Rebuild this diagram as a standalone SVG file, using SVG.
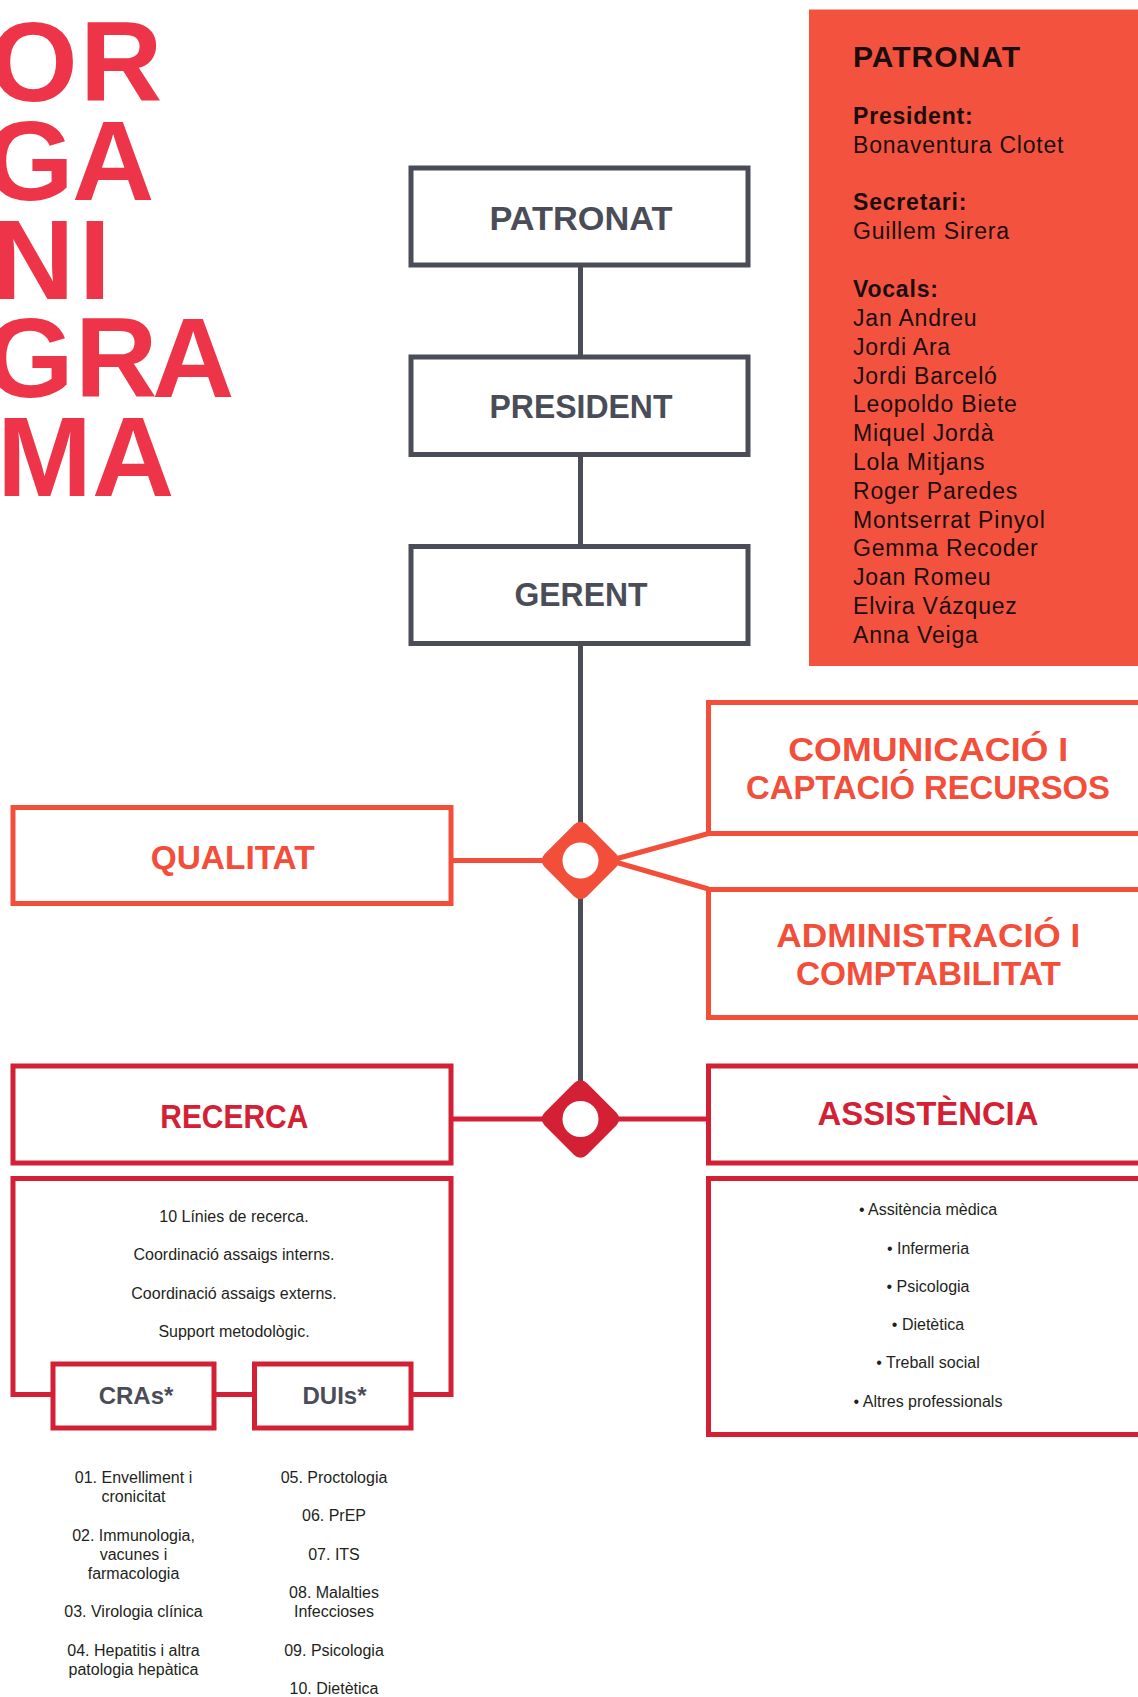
<svg xmlns="http://www.w3.org/2000/svg" width="1138" height="1697" viewBox="0 0 1138 1697">
<style>
.title{font-family:"Liberation Sans",Arial,sans-serif;font-weight:700;font-size:114px;fill:#EE3448}
.gbox{fill:#fff;stroke:#4A4D58;stroke-width:5}
.obox{fill:#fff;stroke:#F24E3A;stroke-width:5}
.rbox{fill:#fff;stroke:#D42034;stroke-width:5}
.lbl{font-family:"Liberation Sans",Arial,sans-serif;font-weight:700;font-size:33px;text-anchor:middle}
.lg{fill:#4A4D58}
.lo{fill:#F24E3A}
.lr{fill:#D42034}
.sm{font-family:"Liberation Sans",Arial,sans-serif;font-size:16px;fill:#231F20;text-anchor:middle}
.sub{font-family:"Liberation Sans",Arial,sans-serif;font-weight:700;font-size:24px;fill:#4A4D58;text-anchor:middle}
.pt{font-family:"Liberation Sans",Arial,sans-serif;font-size:23px;fill:#1B0D0D;letter-spacing:0.8px}
.pb{font-weight:700}
.ph{font-family:"Liberation Sans",Arial,sans-serif;font-weight:700;font-size:30px;fill:#1B0D0D;letter-spacing:1px}
</style>
<rect width="1138" height="1697" fill="#fff"/>

<g id="title">
<text class="title" x="-11 80" y="101">OR</text>
<text class="title" x="-15 72" y="200">GA</text>
<text class="title" x="-8 79" y="299">NI</text>
<text class="title" x="-15 75 152" y="397">GRA</text>
<text class="title" x="-3 92" y="496">MA</text>
</g>

<g id="panel-patronat">
<rect x="809" y="9.5" width="340" height="656.5" fill="#F3533E"/>
<text class="ph" x="853" y="67">PATRONAT</text>
<text class="pt pb" x="853" y="124">President:</text>
<text class="pt" x="853" y="153">Bonaventura Clotet</text>
<text class="pt pb" x="853" y="210">Secretari:</text>
<text class="pt" x="853" y="239">Guillem Sirera</text>
<text class="pt pb" x="853" y="297">Vocals:</text>
<text class="pt" x="853" y="326">Jan Andreu</text>
<text class="pt" x="853" y="354.8">Jordi Ara</text>
<text class="pt" x="853" y="383.6">Jordi Barceló</text>
<text class="pt" x="853" y="412.4">Leopoldo Biete</text>
<text class="pt" x="853" y="441.2">Miquel Jordà</text>
<text class="pt" x="853" y="470">Lola Mitjans</text>
<text class="pt" x="853" y="498.8">Roger Paredes</text>
<text class="pt" x="853" y="527.6">Montserrat Pinyol</text>
<text class="pt" x="853" y="556.4">Gemma Recoder</text>
<text class="pt" x="853" y="585.2">Joan Romeu</text>
<text class="pt" x="853" y="614">Elvira Vázquez</text>
<text class="pt" x="853" y="642.8">Anna Veiga</text>
</g>

<g id="connectors" fill="none">
<path d="M580.5 265 V1085" stroke="#4A4D58" stroke-width="5"/>
<path d="M451 860.5 H548" stroke="#F24E3A" stroke-width="5"/>
<path d="M610 860.5 L708.5 833.5 M610 860.5 L708.5 889" stroke="#F24E3A" stroke-width="5"/>
<path d="M451 1119 H548 M612 1119 H709" stroke="#D42034" stroke-width="5"/>
<path d="M216 1394.5 H252" stroke="#D42034" stroke-width="5"/>
</g>

<g id="node-patronat">
<rect class="gbox" x="411" y="168" width="337" height="97"/>
<text class="lbl lg" x="581" y="230" textLength="183" lengthAdjust="spacingAndGlyphs">PATRONAT</text>
</g>
<g id="node-president">
<rect class="gbox" x="411" y="357" width="337" height="97.5"/>
<text class="lbl lg" x="581" y="418" textLength="183" lengthAdjust="spacingAndGlyphs">PRESIDENT</text>
</g>
<g id="node-gerent">
<rect class="gbox" x="411" y="546.5" width="337" height="97"/>
<text class="lbl lg" x="581" y="605.5" textLength="133" lengthAdjust="spacingAndGlyphs">GERENT</text>
</g>

<g id="node-qualitat">
<rect class="obox" x="13" y="807.5" width="438" height="96"/>
<text class="lbl lo" x="232.7" y="869" textLength="164" lengthAdjust="spacingAndGlyphs">QUALITAT</text>
</g>

<g id="node-comunicacio">
<rect class="obox" x="708.5" y="702.5" width="450" height="131"/>
<text class="lbl lo" x="928.3" y="761" textLength="280" lengthAdjust="spacingAndGlyphs">COMUNICACIÓ I</text>
<text class="lbl lo" x="928" y="799" textLength="364" lengthAdjust="spacingAndGlyphs">CAPTACIÓ RECURSOS</text>
</g>

<g id="node-administracio">
<rect class="obox" x="708.5" y="889.5" width="450" height="128"/>
<text class="lbl lo" x="928.3" y="947" textLength="304" lengthAdjust="spacingAndGlyphs">ADMINISTRACIÓ I</text>
<text class="lbl lo" x="928.5" y="985" textLength="265" lengthAdjust="spacingAndGlyphs">COMPTABILITAT</text>
</g>

<g id="hub-1">
<rect x="550.5" y="830.5" width="60" height="60" rx="9" fill="#F24E3A" transform="rotate(45 580.5 860.5)"/>
<circle cx="580.5" cy="860.5" r="18" fill="#fff"/>
</g>

<g id="hub-2">
<rect x="550.5" y="1089" width="60" height="60" rx="9" fill="#D42034" transform="rotate(45 580.5 1119)"/>
<circle cx="580.5" cy="1119" r="18" fill="#fff"/>
</g>

<g id="node-recerca">
<rect class="rbox" x="13" y="1066" width="438" height="97"/>
<text class="lbl lr" x="234.3" y="1128.3" textLength="148" lengthAdjust="spacingAndGlyphs">RECERCA</text>
</g>

<g id="node-assistencia">
<rect class="rbox" x="708.5" y="1066" width="450" height="97"/>
<text class="lbl lr" x="928" y="1125" textLength="221" lengthAdjust="spacingAndGlyphs">ASSISTÈNCIA</text>
</g>

<g id="node-recerca-detail">
<path d="M53 1394.5 H13 V1178.5 H451 V1394.5 H413" fill="none" stroke="#D42034" stroke-width="5"/>
<text class="sm" x="234" y="1222">10 Línies de recerca.</text>
<text class="sm" x="234" y="1260">Coordinació assaigs interns.</text>
<text class="sm" x="234" y="1298.5">Coordinació assaigs externs.</text>
<text class="sm" x="234" y="1337">Support metodològic.</text>
</g>

<g id="node-cras">
<rect class="rbox" x="53" y="1364" width="161" height="64"/>
<text class="sub" x="136" y="1403.5">CRAs*</text>
</g>

<g id="node-duis">
<rect class="rbox" x="254.5" y="1364" width="156.5" height="64"/>
<text class="sub" x="334.5" y="1403.5">DUIs*</text>
</g>

<g id="list-cras">
<text class="sm" x="133.5" y="1482.5">01. Envelliment i</text>
<text class="sm" x="133.5" y="1502">cronicitat</text>
<text class="sm" x="133.5" y="1540.5">02. Immunologia,</text>
<text class="sm" x="133.5" y="1560">vacunes i</text>
<text class="sm" x="133.5" y="1578.5">farmacologia</text>
<text class="sm" x="133.5" y="1617">03. Virologia clínica</text>
<text class="sm" x="133.5" y="1655.5">04. Hepatitis i altra</text>
<text class="sm" x="133.5" y="1675">patologia hepàtica</text>
</g>

<g id="list-duis">
<text class="sm" x="334" y="1482.5">05. Proctologia</text>
<text class="sm" x="334" y="1521">06. PrEP</text>
<text class="sm" x="334" y="1560">07. ITS</text>
<text class="sm" x="334" y="1597.5">08. Malalties</text>
<text class="sm" x="334" y="1617">Infeccioses</text>
<text class="sm" x="334" y="1655.5">09. Psicologia</text>
<text class="sm" x="334" y="1694">10. Dietètica</text>
</g>

<g id="node-assistencia-detail">
<rect class="rbox" x="708.5" y="1178.5" width="450" height="256"/>
<text class="sm" x="928" y="1215">• Assitència mèdica</text>
<text class="sm" x="928" y="1253.5">• Infermeria</text>
<text class="sm" x="928" y="1291.5">• Psicologia</text>
<text class="sm" x="928" y="1330">• Dietètica</text>
<text class="sm" x="928" y="1368">• Treball social</text>
<text class="sm" x="928" y="1407">• Altres professionals</text>
</g>
</svg>
